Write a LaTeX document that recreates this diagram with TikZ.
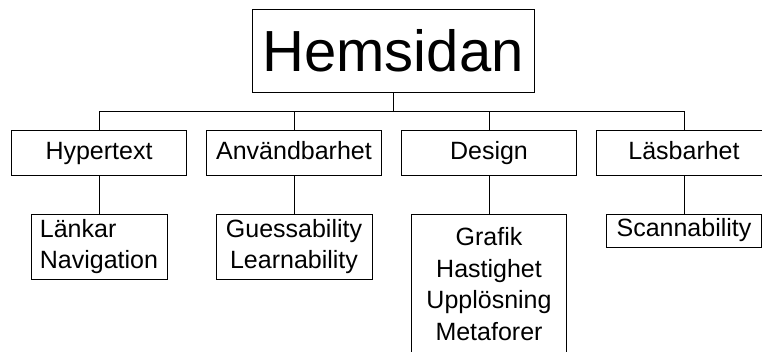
\documentclass[tikz,border=0pt]{standalone}
\usepackage{fontspec}
\setmainfont{Liberation Sans}
\usetikzlibrary{positioning}

\tikzset{
  rootbox/.style={draw, minimum width=282pt, minimum height=83pt, inner sep=0pt,
    font=\fontsize{58}{60}\selectfont},
  catbox/.style={draw, minimum width=175pt, minimum height=45pt, inner sep=0pt,
    text height=18pt, text depth=5pt, font=\fontsize{25}{30}\selectfont},
  leafbox/.style={draw, anchor=north, inner xsep=8pt, inner ysep=3pt, align=center,
    font=\fontsize{25}{31.5}\selectfont},
}

\begin{document}
\begin{tikzpicture}[x=1pt,y=1pt,node distance=195pt,on grid,line width=1pt]
    \useasboundingbox (0,0) rectangle (762,-351);
    \node[rootbox] (hem) at (393,-50.5) {Hemsidan};
    \node[catbox] (anv) [below left=102pt and 99pt of hem] {Användbarhet};
    \node[catbox] (hyp) [left=of anv]  {Hypertext};
    \node[catbox] (des) [right=of anv] {Design};
    \node[catbox] (las) [right=of des] {Läsbarhet};
    % second row
    \node[leafbox,minimum width=136pt,minimum height=65pt,align=left] (lnk)
      at ([yshift=-38pt]hyp.south) {Länkar\\Navigation};
    \node[leafbox,minimum width=156pt,minimum height=65pt] (gss)
      at ([yshift=-38pt]anv.south) {Guessability\\Learnability};
    \node[leafbox,minimum width=155pt,inner ysep=13.5pt,text depth=120pt] (grf)
      at ([yshift=-38pt]des.south) {Grafik\\Hastighet\\Upplösning\\Metaforer};
    \node[leafbox,minimum width=155pt,minimum height=33pt] (scn)
      at ([yshift=-38pt]las.south) {Scannability};
    % top edges
    \coordinate (bar) at ([yshift=-19pt]hem.south);
    \draw (hem.south) -- (bar);
    \draw (hyp.north) |- (bar) -| (las.north);
    \draw (anv.north) -- (anv.north |- bar);
    \draw (des.north) -- (des.north |- bar);
    % bottom edges
    \draw (hyp.south) -- (lnk.north);
    \draw (anv.south) -- (gss.north);
    \draw (des.south) -- (grf.north);
    \draw (las.south) -- (scn.north);
\end{tikzpicture}
\end{document}
